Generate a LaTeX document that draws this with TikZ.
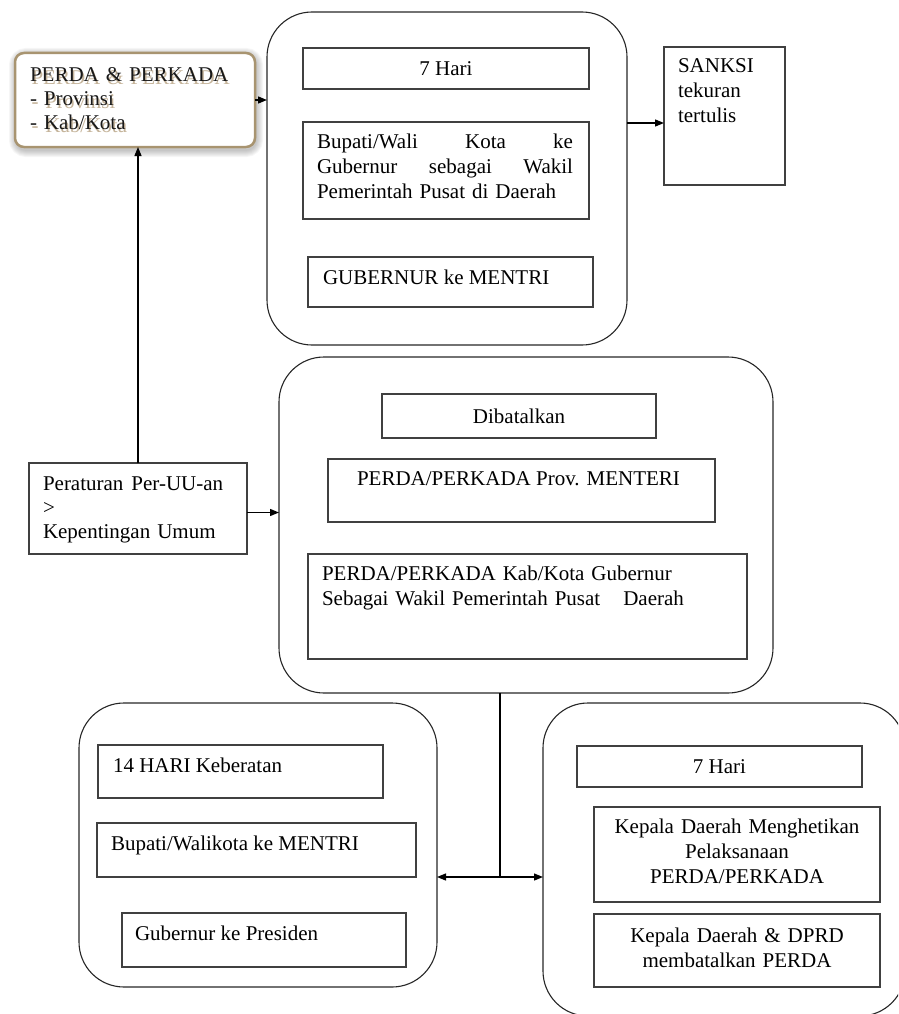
\documentclass[tikz,border=0pt]{standalone}
\usepackage{fontspec}
\setmainfont{Liberation Serif}
\usetikzlibrary{arrows.meta}
\definecolor{tanline}{HTML}{A89470}
\definecolor{tanshade}{HTML}{B7A282}
\begin{document}
\begin{tikzpicture}[x=1pt,y=-1pt,font=\fontsize{21}{25}\selectfont,
  outerbox/.style={draw=black!85,line width=1.1pt,rounded corners=45pt,inner sep=0pt,outer sep=0pt,anchor=north west},
  innerbox/.style={draw=black!75,line width=1.1pt,inner sep=0pt,outer sep=0pt,anchor=north west},
  arr/.style={-{Triangle[length=9pt,width=7pt]},line width=1.3pt},
  txt/.style={inner sep=0pt,outer sep=0pt,anchor=base west},
  txtw/.style={txt,text width=#1,align=left},
  txtc/.style={inner sep=0pt,outer sep=0pt,anchor=base,text width=#1,align=center}]
\useasboundingbox (0,0) rectangle (898,1014);
\clip (0,0) rectangle (898,1014);

% soft halo behind the PERDA & PERKADA card
\foreach \w in {2,4,...,14}
  \draw[black,opacity=0.035,line width=\w pt,rounded corners=10pt]
    (16,55) rectangle (256,150);
\node[draw=tanline,line width=2.5pt,fill=white,rounded corners=9pt,inner sep=0pt,outer sep=0pt,
      anchor=north west,minimum width=240,minimum height=94] (perda) at (15,53) {};
\node[txtw=220,text=tanshade,opacity=0.8,font=\fontsize{21}{24}\selectfont] (perdash) at (31.5,84.5)
  {PERDA \& PERKADA\\- Provinsi\\- Kab/Kota};
\node[txtw=220,text=black!90,font=\fontsize{21}{24}\selectfont] (perdatxt) at (30,82)
  {PERDA \& PERKADA\\- Provinsi\\- Kab/Kota};

% first stage: 7 days
\node[outerbox,minimum width=360,minimum height=333] (b1) at (267,12) {};
\node[innerbox,minimum width=286,minimum height=41] (b1a) at (303,48) {7 Hari};
\node[innerbox,minimum width=286,minimum height=97] (b1b) at (303,122) {};
\node[txtw=256] (b1btxt) at (317,148)
  {Bupati/Wali\hfill Kota\hfill ke\\Gubernur\hfill sebagai\hfill Wakil\\Pemerintah Pusat di Daerah};
\node[innerbox,minimum width=285,minimum height=50] (b1c) at (308,257) {};
\node[txt] (b1ctxt) at (323,284) {GUBERNUR ke MENTRI};

% sanction
\node[innerbox,minimum width=121,minimum height=138] (sanksi) at (664,47) {};
\node[txtw=100] (sanksitxt) at (678,73) {SANKSI\\tekuran\\tertulis};

% legal basis
\node[innerbox,minimum width=218,minimum height=91] (per) at (29,463) {};
\node[txtw=205,font=\fontsize{21}{24}\selectfont] (pertxt) at (43,490)
  {Peraturan\hspace{8pt}Per-UU-an\\>\\Kepentingan Umum};

% annulment
\node[outerbox,minimum width=494,minimum height=336] (b2) at (279,357) {};
\node[innerbox,minimum width=274,minimum height=44] (b2a) at (382,394) {Dibatalkan};
\node[innerbox,minimum width=387,minimum height=63] (b2b) at (328,459) {};
\node[txt] (b2btxt) at (357,485) {PERDA/PERKADA Prov. MENTERI};
\node[innerbox,minimum width=439,minimum height=105] (b2c) at (308,554) {};
\node[txtw=420] (b2ctxt) at (322,580)
  {PERDA/PERKADA Kab/Kota\hspace{7pt}Gubernur\\Sebagai Wakil Pemerintah Pusat\hspace{23pt}Daerah};

% objection: 14 days
\node[outerbox,minimum width=358,minimum height=284] (bl) at (79,703) {};
\node[innerbox,minimum width=285,minimum height=53] (bla) at (98,745) {};
\node[txt] (blatxt) at (113,772) {14 HARI Keberatan};
\node[innerbox,minimum width=319,minimum height=54] (blb) at (97,823) {};
\node[txt] (blbtxt) at (111,850) {Bupati/Walikota ke MENTRI};
\node[innerbox,minimum width=284,minimum height=54] (blc) at (122,913) {};
\node[txt] (blctxt) at (135,940) {Gubernur ke Presiden};

% follow-up: 7 days
\node[outerbox,minimum width=362,minimum height=313] (br) at (543,703) {};
\node[innerbox,minimum width=285,minimum height=41] (bra) at (577,746) {7 Hari};
\node[innerbox,minimum width=286,minimum height=95] (brb) at (594,807) {};
\node[txtc=280] (brbtxt) at (737,833) {Kepala Daerah Menghetikan\\Pelaksanaan\\PERDA/PERKADA};
\node[innerbox,minimum width=286,minimum height=73] (brc) at (594,914) {};
\node[txtc=280] (brctxt) at (737,942) {Kepala Daerah \& DPRD\\membatalkan PERDA};

% connectors
\draw[arr] (perda.east) -- (perda.east -| b1.west);
\draw[arr] ([yshift=-7pt]sanksi.west -| b1.east) -- ([yshift=-7pt]sanksi.west);
\draw[line width=1.3pt,-{Triangle[length=9pt,width=7pt]}] (per.north -| 138,0) -- (perda.south -| 138,0);
\draw[arr] ([yshift=-4pt]per.east) -- ([yshift=-4pt]per.east -| b2.west);
\coordinate (j) at (500,877);
\draw[line width=1.3pt] (j |- b2.south) -- (j);
\draw[arr] (j) -- (j -| bl.east);
\draw[arr] (j) -- (j -| br.west);
\end{tikzpicture}
\end{document}
